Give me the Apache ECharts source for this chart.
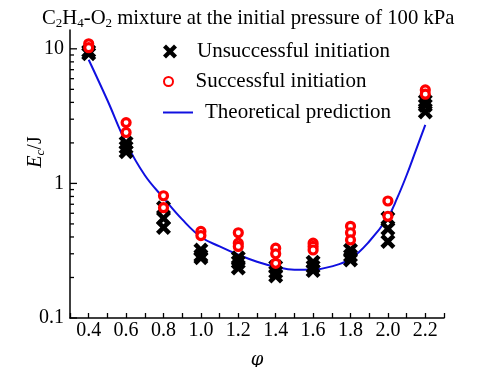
<!DOCTYPE html>
<html>
<head>
<meta charset="utf-8">
<script src="https://cdn.jsdelivr.net/npm/echarts@6/dist/echarts.min.js"></script>
<style>html,body{margin:0;padding:0;background:#fff}#c{width:481px;height:367px}</style>
</head>
<body>
<div id="c"></div>
<script>
// ---- data ----
const phi = [0.4, 0.6, 0.8, 1.0, 1.2, 1.4, 1.6, 1.8, 2.0, 2.2];
const unsuccessful = [
  [9.2, 9.6],
  [2.0, 1.85, 1.72],
  [0.66, 0.55, 0.47],
  [0.32, 0.29, 0.28],
  [0.28, 0.26, 0.235],
  [0.24, 0.22, 0.205],
  [0.26, 0.24, 0.225],
  [0.32, 0.29, 0.27],
  [0.55, 0.46, 0.37],
  [4.1, 3.8, 3.4]
];
const successful = [
  [10.9, 10.2],
  [2.83, 2.39],
  [0.81, 0.66],
  [0.44, 0.41],
  [0.43, 0.36, 0.34],
  [0.33, 0.30, 0.255],
  [0.36, 0.34, 0.32],
  [0.48, 0.43, 0.38],
  [0.74, 0.57],
  [4.95, 4.6]
];
const theoryPhi = [0.4, 0.5, 0.6, 0.7, 0.8, 0.9, 1.0, 1.1, 1.2, 1.3, 1.4, 1.5, 1.6, 1.7, 1.8, 1.9, 2.0, 2.05, 2.1, 2.15, 2.2];
const theoryE   = [8.3, 4.15, 2.0, 1.15, 0.78, 0.54, 0.40, 0.34, 0.295, 0.262, 0.24, 0.228, 0.229, 0.242, 0.275, 0.37, 0.56, 0.78, 1.15, 1.77, 2.72];
const xTickLabels = ['0.4','0.6','0.8','1.0','1.2','1.4','1.6','1.8','2.0','2.2'];
const yTickLabels = ['0.1','1','10'];
const yMajorTicks = [0.1, 1, 10];
const yMinorTicks = [0.2,0.3,0.4,0.5,0.6,0.7,0.8,0.9,2,3,4,5,6,7,8,9];
const seriesNames = ['Unsuccessful initiation','Successful initiation','Theoretical prediction'];

// ---- build ----
const X_MIN = 0.3, X_MAX = 2.3, Y_MIN = 0.1, Y_MAX = 13.8;
const FONT = '"Liberation Serif","DejaVu Serif",serif';
const crossPath = 'path://M0,3 L3,0 L7,4 L11,0 L14,3 L10,7 L14,11 L11,14 L7,10 L3,14 L0,11 L4,7 Z';

function scatterData(groups){
  const out = [];
  groups.forEach((g, i) => g.forEach(v => out.push([phi[i], v])));
  return out;
}
function tickSeries(values, len){
  return {
    type: 'custom', coordinateSystem: 'cartesian2d', silent: true, z: 1,
    data: values.map(v => [X_MIN, v]),
    renderItem: function(params, api){
      const p = api.coord([api.value(0), api.value(1)]);
      return {type: 'line', shape: {x1: p[0], y1: p[1], x2: p[0] + len, y2: p[1]},
              style: {stroke: '#000', lineWidth: 1.3}};
    }
  };
}
function legendBox(name, top, icon, w, h){
  return {
    data: [{name: name, icon: icon}], left: 158, top: top, orient: 'vertical',
    itemWidth: w, itemHeight: h, itemGap: 0, selectedMode: false,
    textStyle: {fontFamily: FONT, fontSize: 21, color: '#000', padding: [0,0,0,7]}
  };
}

const chart = echarts.init(document.getElementById('c'), null, {renderer: 'canvas'});
chart.setOption({
  animation: false,
  backgroundColor: '#fff',
  title: {
    text: 'C{s|2}H{s|4}-O{s|2} mixture at the initial pressure of 100 kPa',
    left: 37, top: 2,
    textStyle: {fontFamily: FONT, fontSize: 20.7, fontWeight: 'normal', color: '#000',
      rich: {s: {fontFamily: FONT, fontSize: 13, padding: [10,0,0,0], color: '#000'}}}
  },
  legend: [
    legendBox(seriesNames[0], 36, crossPath, 30, 14),
    legendBox(seriesNames[1], 66, 'circle', 30, 9),
    legendBox(seriesNames[2], 97, 'path://M0,0 L30,0 L30,2 L0,2 Z', 30, 2)
  ],
  grid: {left: 70, right: 37, top: 30, bottom: 49, outerBoundsMode: 'none', containLabel: false},
  xAxis: {
    type: 'value', min: X_MIN, max: X_MAX, interval: 0.1,
    name: 'φ', nameLocation: 'middle', nameGap: 33, nameMoveOverlap: false,
    nameTextStyle: {fontFamily: '"DejaVu Serif",serif', fontSize: 18, fontStyle: 'italic', color: '#000'},
    axisLine: {lineStyle: {color: '#000', width: 1.5}},
    axisTick: {inside: true, length: 5, lineStyle: {color: '#000', width: 1.3}},
    axisLabel: {
      fontFamily: FONT, fontSize: 20, color: '#000', margin: 3,
      showMinLabel: true, showMaxLabel: true,
      formatter: function(v){
        const s = v.toFixed(1);
        return xTickLabels.indexOf(s) >= 0 ? s : '';
      }
    },
    splitLine: {show: false}
  },
  yAxis: {
    type: 'log', min: Y_MIN, max: Y_MAX, interval: 1,
    name: '{i|E}{s|c}/J', nameLocation: 'middle', nameGap: 23, nameRotate: 90, nameMoveOverlap: false,
    nameTextStyle: {fontFamily: FONT, fontSize: 20, color: '#000', padding: [0,0,0,44],
      rich: {i: {fontFamily: FONT, fontSize: 20, fontStyle: 'italic', color: '#000'},
             s: {fontFamily: FONT, fontSize: 13, fontStyle: 'italic', padding: [9,0,0,0], color: '#000'}}},
    axisLine: {lineStyle: {color: '#000', width: 1.5}},
    axisTick: {show: false},
    axisLabel: {
      fontFamily: FONT, fontSize: 20, color: '#000', margin: 6, showMaxLabel: false,
      formatter: function(v){
        for (let i = 0; i < yMajorTicks.length; i++) {
          if (Math.abs(v - yMajorTicks[i]) / yMajorTicks[i] < 1e-6) return yTickLabels[i];
        }
        return '';
      }
    },
    splitLine: {show: false}
  },
  series: [
    tickSeries(yMajorTicks, 7),
    tickSeries(yMinorTicks, 4),
    {
      name: seriesNames[2], type: 'line', smooth: 0.4, showSymbol: false, symbol: 'none', z: 2,
      data: theoryPhi.map((p, i) => [p, theoryE[i]]),
      lineStyle: {color: '#1010e0', width: 2}, itemStyle: {color: '#1010e0'}
    },
    {
      name: seriesNames[0], type: 'scatter', symbol: crossPath, symbolSize: 15, z: 3,
      data: scatterData(unsuccessful),
      itemStyle: {color: '#000', opacity: 1}
    },
    {
      name: seriesNames[1], type: 'scatter', symbol: 'circle', symbolSize: 8, z: 4,
      data: scatterData(successful),
      itemStyle: {color: '#fff', borderColor: '#ff0000', borderWidth: 3.2, opacity: 1}
    }
  ]
});
</script>
</body>
</html>
